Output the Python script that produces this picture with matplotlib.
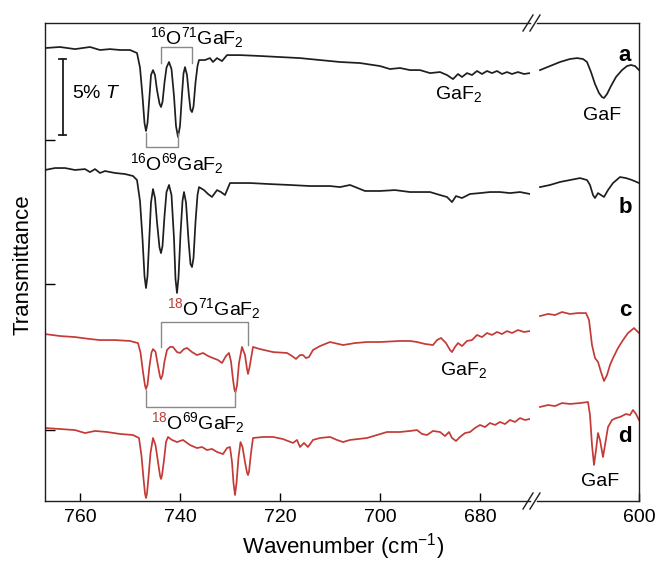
import matplotlib
matplotlib.use("Agg")
import matplotlib.pyplot as plt
from matplotlib.lines import Line2D
from matplotlib.transforms import Bbox

plt.rcParams['font.family'] = ['Liberation Sans', 'DejaVu Sans']
plt.rcParams['mathtext.fontset'] = 'custom'
plt.rcParams['mathtext.rm'] = 'Liberation Sans'
plt.rcParams['mathtext.it'] = 'Liberation Sans:italic'
plt.rcParams['mathtext.default'] = 'regular'

BLACK = '#1e1e1e'
RED = '#c43a36'
GREY = '#8a8a8a'

# ---- spectra, left segment (767-670 cm-1) ----
a_wn = [767.0, 764.0, 761.0, 758.0, 756.0, 754.0, 752.0, 750.0, 748.6, 748.0, 747.5, 747.1, 746.8, 746.5,
        746.1, 745.8, 745.4, 745.0, 744.6, 744.1, 743.8, 743.5, 743.1, 742.7, 742.2, 741.7, 741.2, 740.8,
        740.4, 740.0, 739.6, 739.3, 739.0, 738.6, 738.2, 737.9, 737.6, 737.3, 736.9, 736.5, 736.2, 735.0,
        734.0, 733.4, 732.6, 731.6, 730.6, 728.0, 724.0, 720.0, 716.0, 712.0, 708.0, 704.0, 700.0, 698.0,
        696.0, 694.0, 692.0, 690.0, 688.0, 686.6, 685.4, 684.4, 683.6, 682.6, 681.6, 680.6, 679.6, 678.6,
        677.6, 676.6, 675.6, 674.6, 673.6, 672.4, 671.2, 670.0]
a_T = [30.20, 30.27, 30.13, 30.27, 30.07, 30.13, 30.07, 30.07, 29.87, 28.90, 27.00, 25.20, 24.67, 25.20,
       27.00, 28.40, 28.73, 28.40, 27.40, 26.50, 26.27, 26.60, 27.90, 28.90, 29.27, 28.80, 27.00, 25.00,
       24.27, 25.00, 27.10, 28.50, 28.93, 28.40, 27.00, 26.10, 25.93, 26.30, 27.90, 29.00, 29.40, 29.40,
       29.53, 29.27, 29.53, 29.33, 29.73, 29.73, 29.67, 29.60, 29.53, 29.40, 29.27, 29.20, 29.00, 28.80,
       28.87, 28.73, 28.73, 28.53, 28.60, 28.40, 28.13, 28.47, 28.27, 28.53, 28.40, 28.67, 28.47, 28.67,
       28.53, 28.67, 28.47, 28.60, 28.47, 28.60, 28.47, 28.53]

b_wn = [767.0, 765.0, 763.0, 761.0, 759.0, 758.0, 757.0, 756.0, 755.0, 753.0, 751.0, 749.4, 748.6, 748.0,
        747.5, 747.1, 746.8, 746.5, 746.1, 745.8, 745.4, 745.0, 744.6, 744.1, 743.8, 743.5, 743.1, 742.7,
        742.2, 741.7, 741.2, 740.9, 740.6, 740.3, 739.9, 739.5, 739.2, 738.8, 738.3, 737.9, 737.6, 737.3,
        736.9, 736.5, 736.2, 735.2, 734.4, 733.6, 732.6, 731.8, 731.0, 730.0, 726.0, 722.0, 718.0, 714.0,
        710.0, 708.0, 706.0, 703.0, 700.0, 697.0, 694.0, 692.0, 690.0, 688.0, 686.6, 685.6, 684.8, 683.6,
        682.0, 680.0, 678.0, 676.0, 674.0, 672.0, 670.0]
b_T = [22.07, 22.20, 22.20, 22.07, 22.13, 21.93, 22.13, 21.87, 22.00, 21.87, 21.80, 21.67, 21.40, 20.00,
       17.50, 15.00, 14.20, 15.00, 17.80, 19.90, 20.80, 20.20, 18.60, 16.90, 16.53, 17.00, 19.00, 20.60,
       21.07, 20.40, 17.50, 14.80, 13.87, 14.90, 17.80, 20.00, 20.60, 19.90, 17.40, 15.80, 15.60, 16.20,
       18.60, 20.40, 20.93, 20.73, 20.47, 20.27, 20.73, 20.60, 20.40, 21.20, 21.20, 21.13, 21.07, 21.00,
       21.00, 20.93, 21.07, 20.67, 20.67, 20.73, 20.60, 20.60, 20.60, 20.40, 20.27, 19.93, 20.33, 20.20,
       20.47, 20.53, 20.60, 20.60, 20.53, 20.60, 20.47]

c_wn = [767.0, 764.0, 761.0, 758.0, 756.0, 753.0, 750.0, 748.4, 747.9, 747.4, 747.0, 746.8, 746.5, 746.1,
        745.7, 745.4, 744.9, 744.4, 744.0, 743.8, 743.5, 743.1, 742.6, 742.0, 741.4, 740.6, 740.0, 739.2,
        738.6, 737.6, 736.6, 735.4, 734.4, 733.4, 732.4, 731.6, 730.8, 730.2, 729.8, 729.4, 729.1, 728.9,
        728.6, 728.2, 727.6, 727.0, 726.6, 726.4, 726.1, 725.4, 724.0, 721.4, 718.6, 717.6, 716.8, 716.0,
        715.4, 714.8, 714.2, 713.4, 712.0, 710.0, 707.4, 705.0, 702.6, 700.0, 696.0, 694.0, 692.6, 691.0,
        689.4, 688.6, 687.8, 686.8, 686.0, 685.6, 685.0, 684.4, 683.6, 682.6, 681.6, 680.6, 679.6, 678.6,
        677.6, 676.6, 675.6, 674.6, 673.6, 672.4, 671.2, 670.0]
c_T = [11.13, 11.00, 10.93, 10.80, 10.73, 10.73, 10.67, 10.53, 9.90, 8.60, 7.70, 7.47, 7.75, 9.00,
       9.90, 10.13, 9.95, 9.00, 8.30, 8.13, 8.40, 9.30, 10.07, 10.27, 10.27, 9.93, 9.87, 10.13,
       10.20, 9.93, 9.73, 9.87, 9.67, 9.53, 9.40, 9.20, 9.67, 9.87, 9.30, 8.10, 7.40, 7.27, 7.70,
       9.20, 10.27, 9.73, 8.80, 8.47, 8.90, 10.27, 10.13, 9.93, 9.87, 9.67, 9.47, 9.73,
       9.73, 9.53, 9.60, 10.07, 10.33, 10.60, 10.40, 10.53, 10.60, 10.60, 10.67, 10.67, 10.60, 10.47,
       10.40, 10.73, 10.87, 10.53, 10.07, 9.93, 10.27, 10.53, 10.33, 10.67, 10.73, 11.07, 10.93, 11.20,
       11.07, 11.27, 11.13, 11.33, 11.20, 11.40, 11.27, 11.33]

d_wn = [767.0, 764.0, 761.0, 759.0, 757.0, 754.6, 752.0, 749.4, 748.2, 747.7, 747.3, 747.0, 746.8, 746.6,
        746.3, 745.9, 745.4, 744.9, 744.4, 744.0, 743.8, 743.6, 743.2, 742.8, 742.4, 741.6, 740.6, 739.4,
        738.0, 736.6, 735.6, 734.6, 733.6, 732.6, 731.4, 730.6, 730.0, 729.6, 729.3, 729.0, 728.7, 728.3,
        727.9, 727.5, 727.0, 726.6, 726.4, 726.2, 725.8, 725.4, 723.4, 721.4, 719.4, 717.4, 716.6, 716.0,
        715.2, 714.4, 713.4, 712.0, 710.0, 708.6, 707.4, 706.0, 702.6, 700.6, 698.6, 696.0, 694.0, 692.6,
        691.6, 690.6, 689.4, 688.0, 687.0, 686.2, 685.6, 684.8, 684.0, 683.0, 682.0, 681.0, 680.0, 679.0,
        678.0, 677.0, 676.0, 675.0, 674.0, 673.0, 672.0, 671.0, 670.0]
d_T = [4.87, 4.80, 4.73, 4.53, 4.67, 4.60, 4.47, 4.40, 4.20, 3.00, 1.50, 0.50, 0.20, 0.50,
       1.60, 3.20, 4.20, 3.73, 2.60, 1.70, 1.47, 1.70, 2.73, 3.93, 4.27, 4.07, 3.93, 4.07,
       3.73, 3.53, 3.60, 3.40, 3.47, 3.27, 3.13, 3.53, 3.60, 2.60, 1.20, 0.40, 1.20, 2.90,
       3.93, 3.60, 2.60, 1.90, 1.73, 1.95, 3.20, 4.20, 4.27, 4.27, 4.13, 3.87, 4.07, 3.60,
       3.87, 3.60, 4.07, 4.20, 4.27, 4.07, 3.93, 4.07, 4.20, 4.40, 4.60, 4.60, 4.67, 4.73,
       4.47, 4.40, 4.67, 4.60, 4.33, 4.60, 4.20, 4.00, 4.27, 4.53, 4.60, 4.87, 5.07, 4.93,
       5.20, 5.07, 5.27, 5.13, 5.40, 5.27, 5.53, 5.40, 5.47]

# ---- spectra, right segment (620-600 cm-1) ----
ra_wn = [619.8, 617.8, 615.8, 613.8, 612.4, 611.2, 610.4, 609.6, 608.8, 608.0, 607.4, 607.0, 606.4, 605.6,
         604.6, 603.4, 602.4, 601.6, 600.8, 600.0]
ra_T = [28.73, 29.00, 29.27, 29.47, 29.53, 29.47, 29.27, 28.60, 27.80, 27.20, 26.93, 26.87, 27.13, 27.67,
        28.27, 28.73, 29.00, 29.07, 29.00, 28.73]

rb_wn = [619.8, 617.8, 615.8, 613.8, 611.8, 610.4, 609.8, 609.2, 608.8, 608.2, 607.6, 607.0, 606.2, 605.2,
         603.8, 602.6, 601.4, 600.0]
rb_T = [20.93, 21.07, 21.27, 21.40, 21.53, 21.40, 21.07, 20.40, 20.20, 20.53, 20.40, 20.27, 20.73, 21.20,
        21.60, 21.53, 21.40, 21.20]

rc_wn = [619.8, 618.2, 616.8, 615.4, 613.8, 612.2, 610.6, 610.0, 609.4, 608.8, 608.2, 607.6, 607.0, 606.4,
         605.8, 605.2, 604.2, 603.2, 602.2, 601.0, 600.0]
rc_T = [12.33, 12.47, 12.40, 12.60, 12.47, 12.53, 12.53, 12.07, 10.40, 9.53, 9.27, 8.60, 8.00, 8.40,
        9.07, 9.53, 10.20, 10.73, 11.20, 11.53, 11.20]

rd_wn = [619.8, 618.2, 616.8, 615.4, 613.8, 611.8, 610.2, 609.8, 609.4, 609.0, 608.6, 608.2, 607.8, 607.2,
         606.8, 606.2, 605.4, 604.6, 603.8, 602.6, 601.8, 601.2, 600.6, 600.0]
rd_T = [6.27, 6.40, 6.33, 6.53, 6.47, 6.53, 6.60, 5.73, 3.73, 2.40, 3.40, 4.53, 4.07, 2.93,
        3.73, 4.93, 5.40, 5.53, 5.60, 5.80, 5.73, 6.07, 5.80, 5.40]

left_ticks = [760, 740, 720, 700, 680]
right_ticks = [600]
y_ticks = [4.73, 14.47, 24.07]
trace_labels = ['a', 'b', 'c', 'd']
trace_label_T = [29.73, 19.6, 12.73, 4.27]

W, H = 657, 562
fig = plt.figure(figsize=(W / 100, H / 100), dpi=100)
ax1 = fig.add_axes([45 / W, 61 / H, 485 / W, 478 / H])
ax2 = fig.add_axes([537 / W, 61 / H, 102 / W, 478 / H])

lw = 1.25
ax1.plot(a_wn, a_T, color=BLACK, lw=lw)
ax1.plot(b_wn, b_T, color=BLACK, lw=lw)
ax1.plot(c_wn, c_T, color=RED, lw=lw)
ax1.plot(d_wn, d_T, color=RED, lw=lw)
ax2.plot(ra_wn, ra_T, color=BLACK, lw=lw)
ax2.plot(rb_wn, rb_T, color=BLACK, lw=lw)
ax2.plot(rc_wn, rc_T, color=RED, lw=lw)
ax2.plot(rd_wn, rd_T, color=RED, lw=lw)

ax1.set_xlim(767, 670)
ax2.set_xlim(620.4, 600)
for ax in (ax1, ax2):
    ax.set_ylim(0, 31.87)
    for s in ax.spines.values():
        s.set_linewidth(1.0)
        s.set_color(BLACK)
    ax.tick_params(axis='x', direction='in', length=6, width=1.0, labelsize=14, pad=6, top=False)
ax1.spines['right'].set_visible(False)
ax2.spines['left'].set_visible(False)
ax1.set_xticks(left_ticks)
ax2.set_xticks(right_ticks)
ax1.set_yticks(y_ticks)
ax1.set_yticklabels([])
ax1.tick_params(axis='y', direction='in', length=7, width=1.0)
ax2.set_yticks([])

# break marks on the top and bottom spines
for yp in (23, 501):
    for x0 in (523, 530):
        fig.add_artist(Line2D([x0 / W, (x0 + 10) / W], [(H - yp - 8) / H, (H - yp + 8) / H],
                              color=BLACK, lw=1.0, transform=fig.transFigure))

# scale bar
ax1.plot([763.4, 763.4], [24.4, 29.47], color=BLACK, lw=1.3)
ax1.plot([764.1, 762.7], [24.4, 24.4], color=BLACK, lw=1.3)
ax1.plot([764.1, 762.7], [29.47, 29.47], color=BLACK, lw=1.3)
ax1.text(761.6, 27.2, '5% $\\mathit{T}$', fontsize=14, ha='left', va='center')

# isotopologue brackets
ax1.plot([743.8, 743.8, 737.6, 737.6], [29.2, 30.27, 30.27, 29.2], color=GREY, lw=1.0)
ax1.plot([746.8, 746.8, 740.4, 740.4], [24.53, 23.6, 23.6, 24.53], color=GREY, lw=1.0)
ax1.plot([743.8, 743.8, 726.4, 726.4], [10.27, 11.93, 11.93, 10.4], color=GREY, lw=1.0)
ax1.plot([746.8, 746.8, 729.0, 729.0], [7.4, 6.27, 6.27, 7.4], color=GREY, lw=1.0)

fs = 14
ax1.text(736.6, 30.93, '$^{16}$O$^{71}$GaF$_2$', fontsize=fs, ha='center', va='center')
ax1.text(740.6, 22.53, '$^{16}$O$^{69}$GaF$_2$', fontsize=fs, ha='center', va='center')
lab18 = [(733.2, 12.8, '$^{18}$O$^{71}$GaF$_2$'), (736.4, 5.2, '$^{18}$O$^{69}$GaF$_2$')]
ax1.text(684.4, 27.13, 'GaF$_2$', fontsize=fs, ha='center', va='center')
ax1.text(683.4, 8.73, 'GaF$_2$', fontsize=fs, ha='center', va='center')
ax2.text(607.4, 25.73, 'GaF', fontsize=fs, ha='center', va='center')
ax2.text(607.8, 1.27, 'GaF', fontsize=fs, ha='center', va='center')

for lab, yv in zip(trace_labels, trace_label_T):
    ax2.text(602.8, yv, lab, fontsize=16, fontweight='bold', ha='center', va='center')

fig.text(23 / W, 1 - 265 / H, 'Transmittance', rotation=90, fontsize=16, ha='center', va='center')
fig.text(343 / W, 1 - 547 / H, 'Wavenumber (cm$^{\u22121}$)', fontsize=16, ha='center', va='center')

# 18O labels: same string drawn twice, red part clipped to the leading "18"
blk = [ax1.text(x, y, s, fontsize=fs, ha='center', va='center') for x, y, s in lab18]
probe = fig.text(0, 0, '$^{18}$', fontsize=fs)
fig.canvas.draw()
w18 = probe.get_window_extent().width
probe.remove()
for (x, y, s), t in zip(lab18, blk):
    bb = t.get_window_extent()
    cut = bb.x0 + w18 + 0.5
    t.set_clip_box(Bbox([[cut, 0], [W, H]]))
    t.set_clip_on(True)
    r = ax1.text(x, y, s, fontsize=fs, ha='center', va='center', color=RED)
    r.set_clip_box(Bbox([[0, 0], [cut, H]]))
    r.set_clip_on(True)

fig.savefig('out.png', dpi=100)
